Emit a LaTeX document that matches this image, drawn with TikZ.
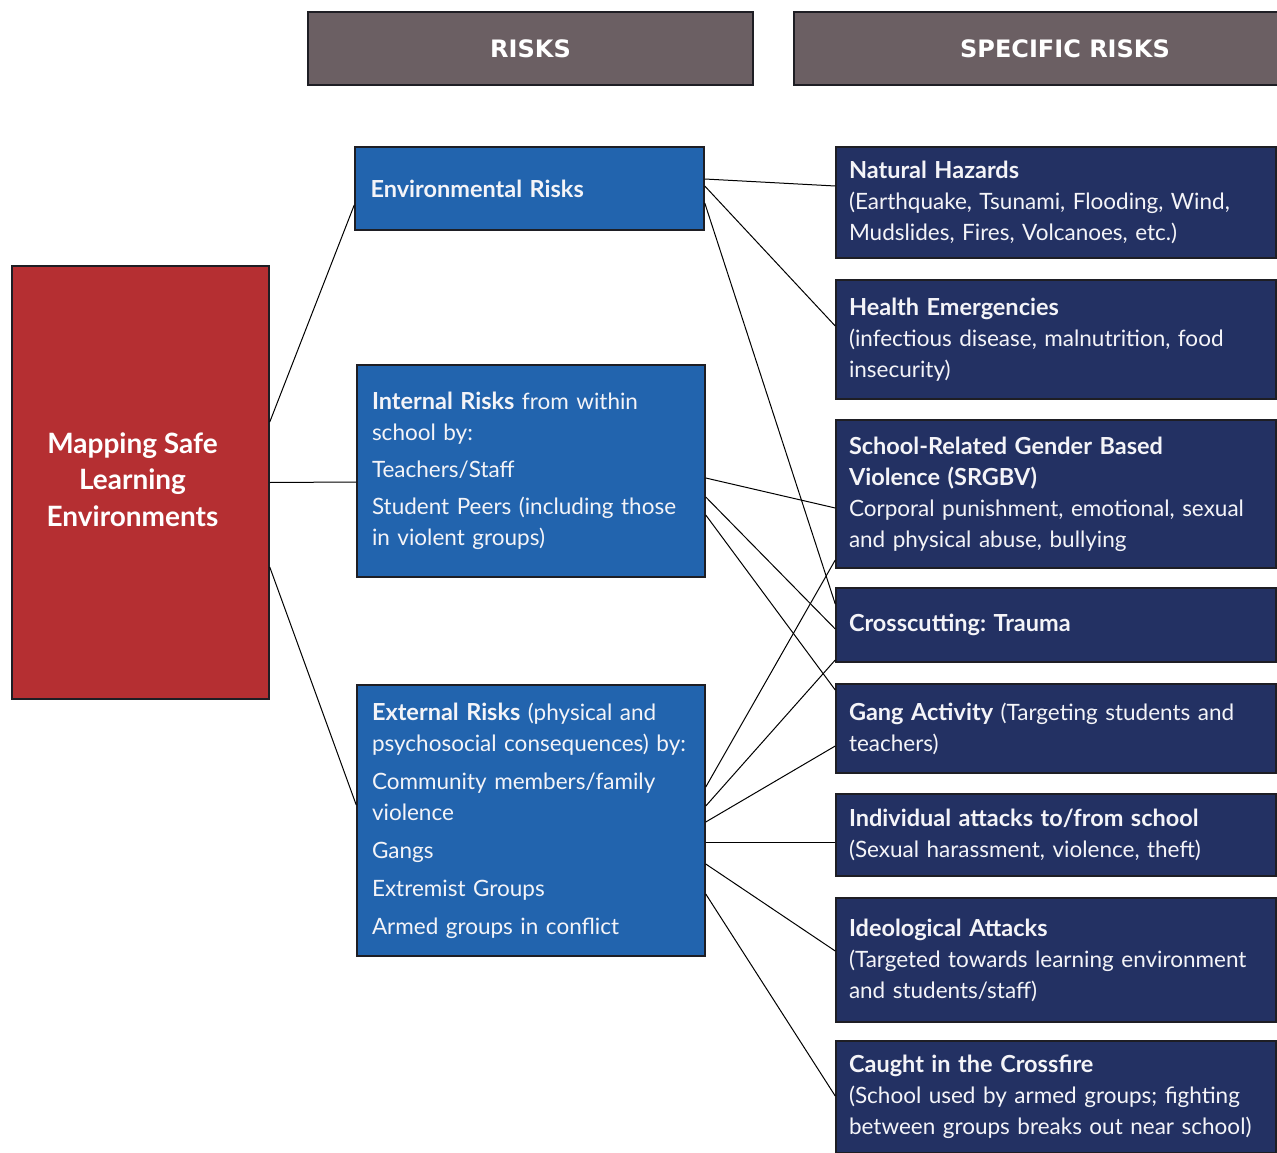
\documentclass[tikz,border=0pt]{standalone}
\usepackage{fontspec}
\setmainfont{Lato}
\newfontfamily\hdrfont{DejaVu Sans}
\definecolor{mapred}{HTML}{B52F32}
\definecolor{midblue}{HTML}{2264AE}
\definecolor{navy}{HTML}{233163}
\definecolor{hdrgray}{HTML}{6B5F63}
\definecolor{boxline}{HTML}{1E1E24}
\definecolor{softwhite}{HTML}{F4F4F8}
\newcommand{\hb}[1]{{\fontsize{23.5}{31}\selectfont\bfseries #1}}
\begin{document}
\frenchspacing
\begin{tikzpicture}[x=1pt,y=-1pt,
  box/.style={draw=boxline, line width=1.5pt, rectangle, inner ysep=0pt, text=softwhite},
  hdr/.style={box, fill=hdrgray, inner xsep=0pt, text=white, font=\hdrfont\bfseries\fontsize{24}{28}\selectfont},
  mid/.style={box, fill=midblue, align=left, inner xsep=15pt, minimum width=348pt, text width=318pt, font=\fontsize{22.5}{31}\selectfont},
  rt/.style={box, fill=navy, align=left, inner xsep=13pt, minimum width=440pt, text width=414pt, font=\fontsize{22.5}{31}\selectfont},
  link/.style={draw=black, line width=1pt}
]
\useasboundingbox (0,0) rectangle (1277,1153);
% headers
\node[hdr, minimum width=445pt, minimum height=73pt] (h1) at (530.5,48.5) {RISKS};
\node[hdr, minimum width=542pt, minimum height=73pt] (h2) at (1065,48.5) {SPECIFIC RISKS};
% root
\node[box, fill=mapred, minimum width=257pt, minimum height=433pt] (root) at (140.5,482.5) {};
\node[align=center, text=white, inner sep=0pt, font=\bfseries\fontsize{28}{36.5}\selectfont] (rootlabel) at ([xshift=-8pt,yshift=3pt]root.center) {Mapping Safe\\Learning\\Environments};
% middle column
\node[mid, minimum width=349pt, minimum height=83pt] (env) at (529.5,188.5) {\hb{Environmental Risks}};
\node[mid, minimum height=212pt] (int) at (531,471) {\hb{Internal Risks} from within\\ school by:\\[6pt] Teachers/Staff\\[6pt] Student Peers (including those\\ in violent groups)};
\node[mid, minimum height=271pt] (ext) at (531,820.5) {\hb{External Risks} (physical and\\ psychosocial consequences) by:\\[7pt] Community members/family\\ violence\\[7pt] Gangs\\[7pt] Extremist Groups\\[7pt] Armed groups in conflict};
% right column
\node[rt, minimum height=111pt] (nat) at (1056,202.5) {\hb{Natural Hazards}\\ (Earthquake, Tsunami, Flooding, Wind,\\ Mudslides, Fires, Volcanoes, etc.)};
\node[rt, minimum height=119pt] (hea) at (1056,339.5) {\hb{Health Emergencies}\\ (infectious disease, malnutrition, food\\ insecurity)};
\node[rt, minimum height=148pt] (srg) at (1056,494) {\hb{School-Related Gender Based}\\ \hb{Violence (SRGBV)}\\ Corporal punishment, emotional, sexual\\ and physical abuse, bullying};
\node[rt, minimum height=74pt] (cro) at (1056,625) {\hb{Crosscutting: Trauma}};
\node[rt, minimum height=89pt] (gan) at (1056,728.5) {\hb{Gang Activity} (Targeting students and\\ teachers)};
\node[rt, minimum height=82pt] (ind) at (1056,835) {\hb{Individual attacks to/from school}\\ (Sexual harassment, violence, theft)};
\node[rt, minimum height=124pt] (ide) at (1056,960) {\hb{Ideological Attacks}\\ (Targeted towards learning environment\\ and students/staff)};
\node[rt, minimum height=112pt] (caf) at (1056,1097) {\hb{Caught in the Crossfire}\\ (School used by armed groups; fighting\\ between groups breaks out near school)};
% connectors: root to risks
\draw[link] ([yshift=60.5pt]root.east) -- ([yshift=-16.5pt]env.west);
\draw[link] (root.east) -- ([yshift=-11pt]int.west);
\draw[link] ([yshift=-84.5pt]root.east) -- ([yshift=15.5pt]ext.west);
% environmental
\draw[link] ([yshift=9.5pt]env.east) -- ([yshift=16.5pt]nat.west);
\draw[link] ([yshift=2.5pt]env.east) -- ([yshift=13.5pt]hea.west);
\draw[link] ([yshift=-14.5pt]env.east) -- ([yshift=21pt]cro.west);
% internal
\draw[link] ([yshift=-7pt]int.east) -- ([yshift=-14pt]srg.west);
\draw[link] ([yshift=-26pt]int.east) -- ([yshift=-4pt]cro.west);
\draw[link] ([yshift=-44pt]int.east) -- ([yshift=38.5pt]gan.west);
% external
\draw[link] ([yshift=33.5pt]ext.east) -- ([yshift=-66pt]srg.west);
\draw[link] ([yshift=14.5pt]ext.east) -- ([yshift=-35pt]cro.west);
\draw[link] ([yshift=-1.5pt]ext.east) -- ([yshift=-17.5pt]gan.west);
\draw[link] ([yshift=-21.5pt]ext.east) -- ([yshift=-7pt]ind.west);
\draw[link] ([yshift=-43.5pt]ext.east) -- ([yshift=9pt]ide.west);
\draw[link] ([yshift=-73.5pt]ext.east) -- ([yshift=1pt]caf.west);
\end{tikzpicture}
\end{document}
